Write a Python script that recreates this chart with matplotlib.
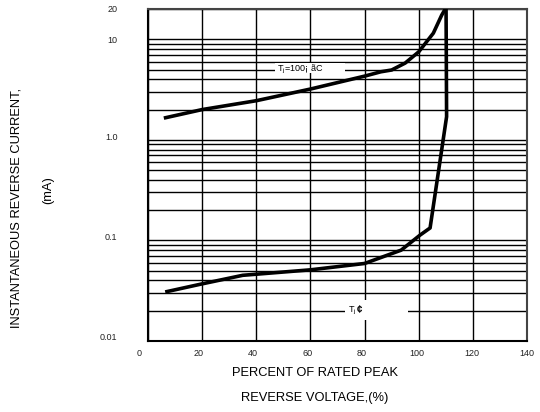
import matplotlib
matplotlib.use('Agg')
import matplotlib.pyplot as plt
import matplotlib.transforms as mtransforms
from matplotlib.patches import Rectangle

plt.rcParams['font.family'] = ['Liberation Sans', 'DejaVu Sans']
plt.rcParams['mathtext.fontset'] = 'custom'
plt.rcParams['mathtext.rm'] = 'Liberation Sans'
plt.rcParams['mathtext.it'] = 'Liberation Sans'

# curve data (percent of rated peak voltage, mA)
pct_100 = [6.5, 20, 40, 60, 80, 86, 90, 95, 100, 105.4, 108.5, 109.8]
ir_100 = [1.66, 2.0, 2.45, 3.2, 4.3, 4.75, 4.95, 5.8, 7.5, 11.5, 17.4, 20]

pct_25 = [7, 20, 35, 60, 80, 93.5, 100.5, 104.2, 110.3, 110.1]
ir_25 = [0.031, 0.037, 0.045, 0.051, 0.059, 0.08, 0.113, 0.133, 1.7, 20]

x_ticks = [0, 20, 40, 60, 80, 100, 120, 140]
y_ticks = [0.01, 0.1, 1.0, 10, 20]
y_tick_labels = ['0.01', '0.1', '1.0', '10', '20']

label_100 = 'T$_j$=100¡ ãC'

fig = plt.figure(figsize=(5.4, 4.12), dpi=100)
ax = fig.add_axes([148/540, 1-341/412, 379/540, 332/412])

ax.set_yscale('log')
ax.set_xlim(0, 140)
ax.set_ylim(0.01, 20)

ax.set_xticks(x_ticks)
ax.set_xticklabels([str(v) for v in x_ticks])
ax.set_yticks(y_ticks)
ax.set_yticklabels(y_tick_labels)
ax.yaxis.set_minor_locator(matplotlib.ticker.LogLocator(base=10, subs=range(2, 10)))
ax.yaxis.set_minor_formatter(matplotlib.ticker.NullFormatter())

ax.tick_params(which='both', length=0, labelsize=6.5, labelcolor='#222222')
ax.tick_params(axis='y', pad=22)
ax.tick_params(axis='x', pad=6)

ax.set_axisbelow(True)
ax.grid(True, which='major', axis='x', color='black', lw=1.0)
ax.grid(True, which='both', axis='y', color='black', lw=1.0)

# y tick labels sit a little above their lines
for lab, dy in zip(ax.get_yticklabels(), [4, 4, 3, 0, 0]):
    lab.set_transform(lab.get_transform() + mtransforms.ScaledTranslation(0, dy/100, fig.dpi_scale_trans))
for lab, dx in zip(ax.get_xticklabels(), [-9, -4, -3, -2.5, -2.5, -1.5, -1.5, 0]):
    lab.set_transform(lab.get_transform() + mtransforms.ScaledTranslation(dx/100, 0, fig.dpi_scale_trans))

for s in ['left', 'bottom']:
    ax.spines[s].set_linewidth(1.5)
    ax.spines[s].set_color('black')
for s in ['top', 'right']:
    ax.spines[s].set_linewidth(1.5)
    ax.spines[s].set_color('#444444')

# white gaps in the grid where the labels sit
ax.add_patch(Rectangle((47.0, 4.62), 25.8, 1.18, facecolor='white', edgecolor='none', zorder=1))
ax.add_patch(Rectangle((72.8, 0.0162), 23.2, 0.0094, facecolor='white', edgecolor='none', zorder=1))

ax.plot(pct_100, ir_100, color='black', lw=2.6, zorder=3, solid_joinstyle='round')
ax.plot(pct_25, ir_25, color='black', lw=2.6, zorder=3, solid_joinstyle='round')

ax.text(47.8, 5.0, label_100, fontsize=6.5, va='center', ha='left', zorder=4)
ax.text(73.9, 0.02, 'T$_j$', fontsize=6.5, va='center', ha='left', zorder=4)
ax.text(77.2, 0.0205, '¢', fontsize=7, fontweight='bold', va='center', ha='left', zorder=4)

fig.text(17/540, 1-208/412, 'INSTANTANEOUS REVERSE CURRENT,', rotation=90,
         fontsize=9.3, ha='center', va='center')
fig.text(48/540, 1-190/412, '(mA)', rotation=90, fontsize=9.3, ha='center', va='center')
fig.text(315/540, 1-373/412, 'PERCENT OF RATED PEAK', fontsize=9.3, ha='center', va='center')
fig.text(315/540, 1-398/412, 'REVERSE VOLTAGE,(%)', fontsize=9.3, ha='center', va='center')

fig.savefig('out.png', dpi=100)
